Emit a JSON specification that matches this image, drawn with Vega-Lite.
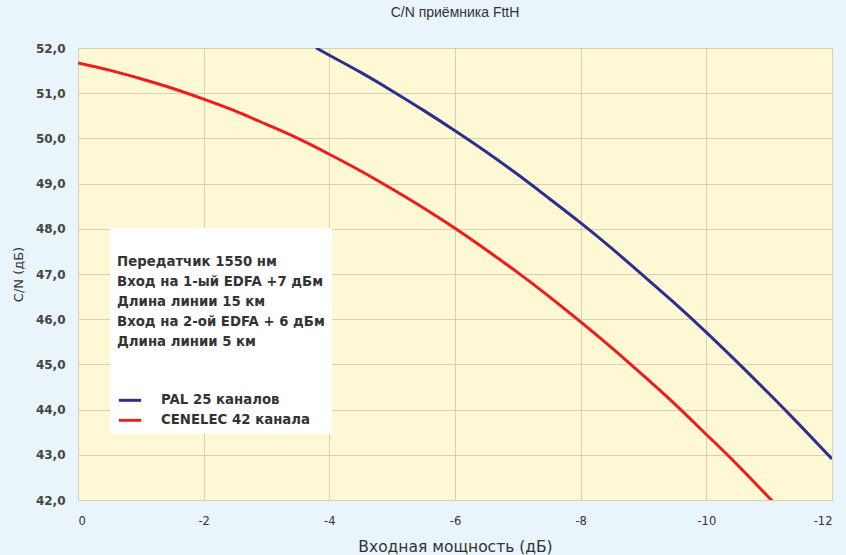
{
  "$schema": "https://vega.github.io/schema/vega-lite/v6.json",
  "autosize": "none",
  "width": 754,
  "height": 452,
  "padding": {"left": 78, "top": 48, "right": 14, "bottom": 55},
  "background": "#E9F4FB",
  "title": {
    "text": "C/N приёмника FttH",
    "fontSize": 14,
    "fontWeight": "normal",
    "font": "Liberation Sans",
    "color": "#333333",
    "anchor": "middle",
    "offset": 22
  },
  "config": {
    "font": "Liberation Sans",
    "view": {"fill": "#FFF8D4", "stroke": "#A8A8A0", "strokeWidth": 1}
  },
  "data": {
    "values": [
      {"x": -3.79, "y": 52.0, "s": "PAL 25 каналов"},
      {"x": -4.0, "y": 51.84, "s": "PAL 25 каналов"},
      {"x": -4.5, "y": 51.46, "s": "PAL 25 каналов"},
      {"x": -5.0, "y": 51.05, "s": "PAL 25 каналов"},
      {"x": -5.5, "y": 50.62, "s": "PAL 25 каналов"},
      {"x": -6.0, "y": 50.17, "s": "PAL 25 каналов"},
      {"x": -6.5, "y": 49.7, "s": "PAL 25 каналов"},
      {"x": -7.0, "y": 49.2, "s": "PAL 25 каналов"},
      {"x": -7.5, "y": 48.67, "s": "PAL 25 каналов"},
      {"x": -8.0, "y": 48.13, "s": "PAL 25 каналов"},
      {"x": -8.5, "y": 47.56, "s": "PAL 25 каналов"},
      {"x": -9.0, "y": 46.96, "s": "PAL 25 каналов"},
      {"x": -9.5, "y": 46.35, "s": "PAL 25 каналов"},
      {"x": -10.0, "y": 45.71, "s": "PAL 25 каналов"},
      {"x": -10.5, "y": 45.04, "s": "PAL 25 каналов"},
      {"x": -11.0, "y": 44.35, "s": "PAL 25 каналов"},
      {"x": -11.5, "y": 43.64, "s": "PAL 25 каналов"},
      {"x": -12.0, "y": 42.91, "s": "PAL 25 каналов"},
      {"x": 0.0, "y": 51.67, "s": "CENELEC 42 канала"},
      {"x": -0.5, "y": 51.51, "s": "CENELEC 42 канала"},
      {"x": -1.0, "y": 51.32, "s": "CENELEC 42 канала"},
      {"x": -1.5, "y": 51.11, "s": "CENELEC 42 канала"},
      {"x": -2.0, "y": 50.87, "s": "CENELEC 42 канала"},
      {"x": -2.5, "y": 50.61, "s": "CENELEC 42 канала"},
      {"x": -3.0, "y": 50.31, "s": "CENELEC 42 канала"},
      {"x": -3.5, "y": 50.0, "s": "CENELEC 42 канала"},
      {"x": -4.0, "y": 49.65, "s": "CENELEC 42 канала"},
      {"x": -4.5, "y": 49.28, "s": "CENELEC 42 канала"},
      {"x": -5.0, "y": 48.88, "s": "CENELEC 42 канала"},
      {"x": -5.5, "y": 48.46, "s": "CENELEC 42 канала"},
      {"x": -6.0, "y": 48.01, "s": "CENELEC 42 канала"},
      {"x": -6.5, "y": 47.53, "s": "CENELEC 42 канала"},
      {"x": -7.0, "y": 47.03, "s": "CENELEC 42 канала"},
      {"x": -7.5, "y": 46.5, "s": "CENELEC 42 канала"},
      {"x": -8.0, "y": 45.94, "s": "CENELEC 42 канала"},
      {"x": -8.5, "y": 45.36, "s": "CENELEC 42 канала"},
      {"x": -9.0, "y": 44.75, "s": "CENELEC 42 канала"},
      {"x": -9.5, "y": 44.12, "s": "CENELEC 42 канала"},
      {"x": -10.0, "y": 43.45, "s": "CENELEC 42 канала"},
      {"x": -10.5, "y": 42.77, "s": "CENELEC 42 канала"},
      {"x": -11.0, "y": 42.05, "s": "CENELEC 42 канала"},
      {"x": -11.04, "y": 42.0, "s": "CENELEC 42 канала"}
    ]
  },
  "mark": {"type": "line", "strokeWidth": 3, "interpolate": "natural", "clip": true},
  "encoding": {
    "x": {
      "field": "x",
      "type": "quantitative",
      "scale": {"domain": [-12, 0], "reverse": true, "nice": false},
      "axis": {
        "title": "Входная мощность (дБ)",
        "values": [0, -2, -4, -6, -8, -10, -12],
        "labelExpr": "'' + datum.value",
        "ticks": false,
        "domain": false,
        "grid": true,
        "gridColor": "#D8D0B2",
        "gridWidth": 1,
        "gridOpacity": 1,
        "labelFont": "DejaVu Sans",
        "labelFontSize": 11.5,
        "labelColor": "#333333",
        "labelPadding": 15,
        "titleFont": "DejaVu Sans",
        "titleFontSize": 15.5,
        "titleFontWeight": "normal",
        "titleColor": "#333333",
        "titleY": 46,
        "titleBaseline": "middle"
      }
    },
    "y": {
      "field": "y",
      "type": "quantitative",
      "scale": {"domain": [42, 52], "nice": false, "zero": false},
      "axis": {
        "title": "C/N (дБ)",
        "values": [42, 43, 44, 45, 46, 47, 48, 49, 50, 51, 52],
        "labelExpr": "replace(format(datum.value, '.1f'), '.', ',')",
        "ticks": false,
        "domain": false,
        "grid": true,
        "gridColor": "#D8D0B2",
        "gridWidth": 1,
        "gridOpacity": 1,
        "labelFont": "DejaVu Sans",
        "labelFontSize": 12,
        "labelFontWeight": "bold",
        "labelColor": "#444444",
        "labelPadding": 13,
        "titleFont": "DejaVu Sans",
        "titleFontSize": 13,
        "titleFontWeight": "normal",
        "titleColor": "#333333",
        "titleX": -60,
        "titleY": 226,
        "titleAngle": -90,
        "titleAlign": "center",
        "titleBaseline": "middle"
      }
    },
    "color": {
      "field": "s",
      "type": "nominal",
      "scale": {
        "domain": ["PAL 25 каналов", "CENELEC 42 канала"],
        "range": ["#2C2F8E", "#F01C1C"]
      },
      "legend": {
        "orient": "none",
        "legendX": 32,
        "legendY": 180,
        "direction": "vertical",
        "fillColor": "white",
        "padding": 7,
        "title": ["", "Передатчик 1550 нм", "Вход на 1-ый EDFA +7 дБм", "Длина линии 15 км", "Вход на 2-ой EDFA + 6 дБм", "Длина линии 5 км"],
        "titleFont": "DejaVu Sans",
        "titleFontSize": 13.3,
        "titleFontWeight": "bold",
        "titleColor": "#333333",
        "titleLineHeight": 20,
        "titlePadding": 39,
        "titleLimit": 400,
        "symbolType": "stroke",
        "symbolStrokeWidth": 3,
        "symbolSize": 500,
        "labelFont": "DejaVu Sans",
        "labelFontSize": 13.3,
        "labelFontWeight": "bold",
        "labelColor": "#333333",
        "labelOffset": 18,
        "labelLimit": 400,
        "rowPadding": 0
      }
    }
  }
}
